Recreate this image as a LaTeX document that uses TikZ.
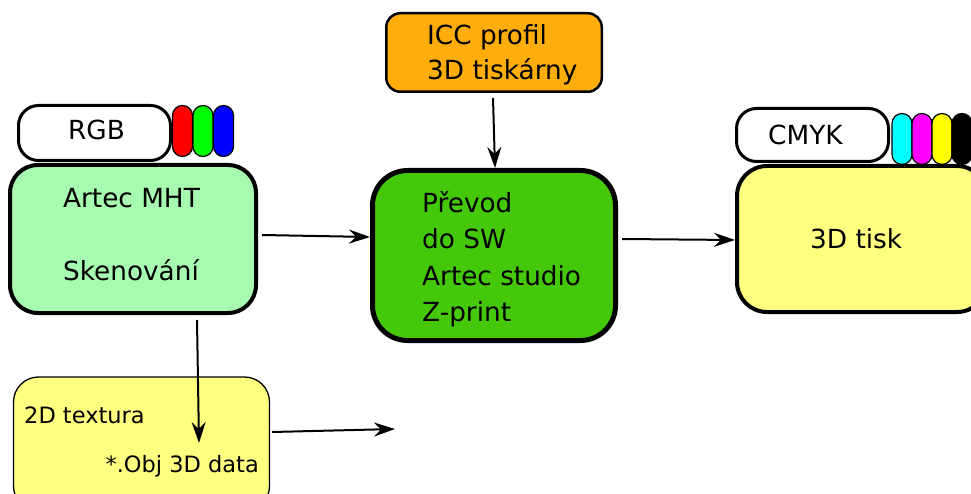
\documentclass[tikz,border=0pt]{standalone}
\usepackage{fontspec}
\setmainfont{DejaVu Sans}
\usetikzlibrary{arrows.meta}
\definecolor{mint}{RGB}{166,251,176}
\definecolor{grass}{RGB}{70,200,10}
\definecolor{orng}{RGB}{255,173,10}
\definecolor{lyell}{RGB}{255,255,128}
\definecolor{pcyan}{RGB}{0,255,255}
\definecolor{pmag}{RGB}{255,0,255}
\definecolor{pyel}{RGB}{255,255,0}
\definecolor{pred}{RGB}{255,0,0}
\definecolor{pgreen}{RGB}{0,255,0}
\definecolor{pblue}{RGB}{0,0,255}
\begin{document}
\begin{tikzpicture}[x=1pt,y=-1pt,
  box/.style={draw=black,rounded corners=#1,inner sep=0pt},
  pill/.style={draw=black,line width=1.2pt,rounded corners=10pt,minimum width=20pt,minimum height=51pt,inner sep=0pt},
  big/.style={inner sep=0pt,font=\fontsize{26.3}{31}\selectfont},
  small/.style={inner sep=0pt,font=\fontsize{22.5}{27}\selectfont},
  arr/.style={line width=2pt,-{Stealth[length=21pt,width=14pt,inset=7pt]}}]
\useasboundingbox (0,0) rectangle (971,494);
% boxes
\node[box=20pt,line width=3pt,fill=white,minimum width=152pt,minimum height=55pt] (rgb) at (94.5,133) {};
\node[pill,fill=pred] (pr) at (182.5,131) {};
\node[pill,fill=pgreen] (pg) at (203,131) {};
\node[pill,fill=pblue] (pb) at (223.5,131) {};
\node[box=28pt,line width=4pt,fill=mint,minimum width=246pt,minimum height=148pt] (artec) at (133,239) {};
\node[box=14pt,line width=2.5pt,fill=orng,minimum width=215.5pt,minimum height=78.5pt] (icc) at (494,52.5) {};
\node[box=35pt,line width=5pt,fill=grass,minimum width=243pt,minimum height=170pt] (prevod) at (494,255.5) {};
\node[box=20pt,line width=3pt,fill=white,minimum width=152pt,minimum height=53pt] (cmyk) at (812.5,135) {};
\node[pill,fill=pcyan] (pc) at (902,139) {};
\node[pill,fill=pmag] (pm) at (922,139) {};
\node[pill,fill=pyel] (py) at (942,139) {};
\node[pill,fill=black] (pk) at (962,139) {};
\node[box=30pt,line width=4pt,fill=lyell,minimum width=250pt,minimum height=146pt] (tisk) at (862,239) {};
\node[box=25pt,line width=1.3pt,fill=lyell,minimum width=256pt,minimum height=134pt] (tex) at (141.5,444) {};
% texts
\node[big,anchor=base west] (trgb) at (68,140) {RGB};
\node[big,anchor=base west] (ta1) at (63,208) {Artec MHT};
\node[big,anchor=base west] (ta2) at (63,280) {Skenování};
\node[big,anchor=base west] (ti1) at (427,45) {ICC profil};
\node[big,anchor=base west] (ti2) at (427,80) {3D tiskárny};
\node[big,anchor=base west] (tp1) at (422,213) {Převod};
\node[big,anchor=base west] (tp2) at (422,249) {do SW};
\node[big,anchor=base west] (tp3) at (422,285) {Artec studio};
\node[big,anchor=base west] (tp4) at (422,321) {Z-print};
\node[big,anchor=base west] (tcmyk) at (768,145) {CMYK};
\node[big,anchor=base west] (tt) at (810,248) {3D tisk};
\node[small,anchor=base west] (tx1) at (24,423) {2D textura};
\node[small,anchor=base east] (tx2) at (259,472) {*.Obj 3D data};
% connectors
\coordinate (free) at (395,429);
\draw[arr] (262,235) -- (prevod.west |- 0,237);
\draw[arr] (icc.south -| 493,0) ++(0,5) -- (495,168);
\draw[arr] (622,239) -- (tisk.west |- 0,240);
\draw[arr] (197,320) -- (199,443);
\draw[arr] (272,432) -- (free);
\end{tikzpicture}
\end{document}
